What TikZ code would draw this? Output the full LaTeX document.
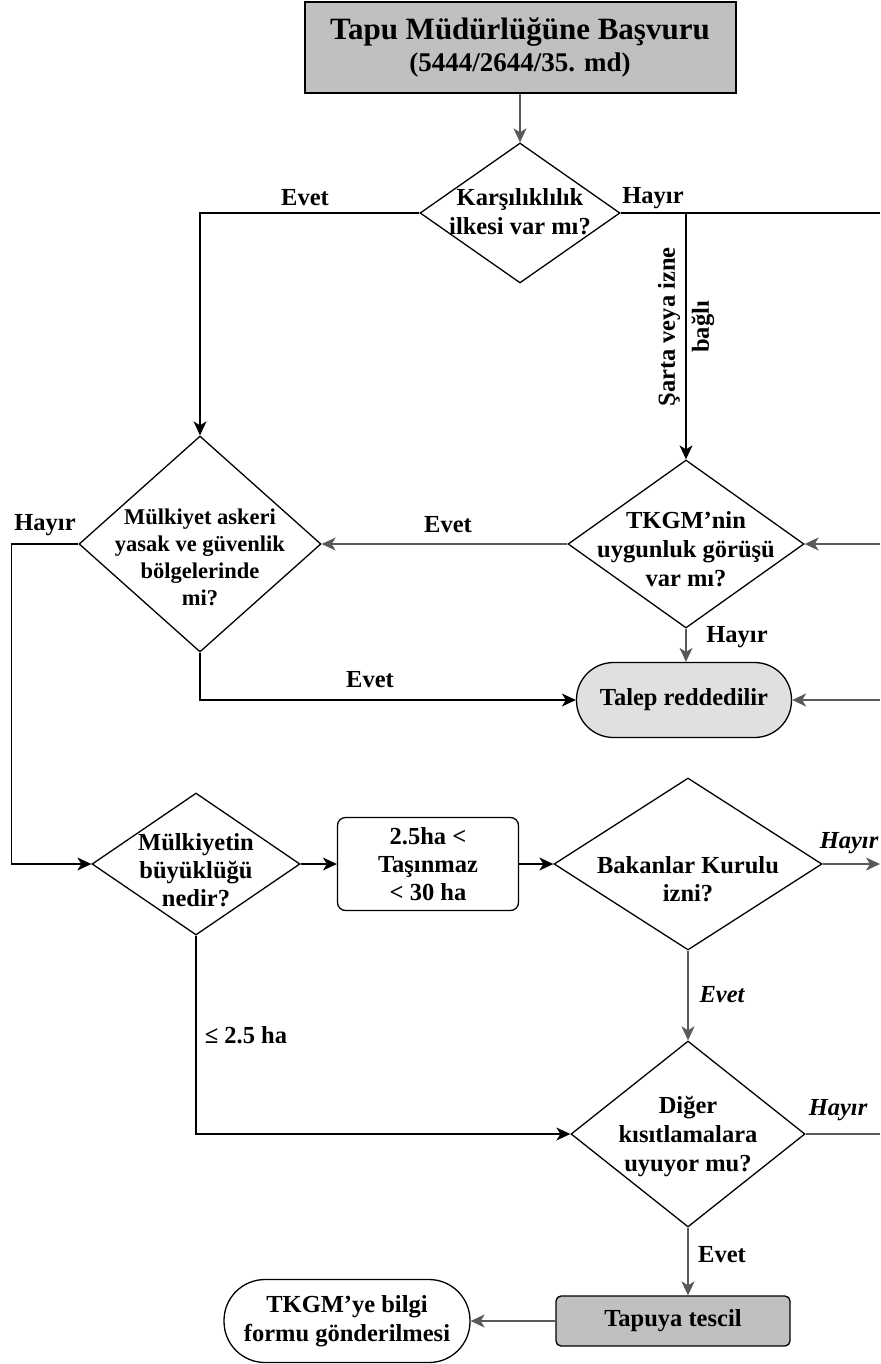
\documentclass[tikz,border=0pt]{standalone}
\usepackage{fontspec}
\setmainfont{Liberation Serif}
\usetikzlibrary{shapes.geometric,arrows.meta}
\definecolor{lg}{HTML}{595959}
\definecolor{boxgray}{HTML}{C0C0C0}
\definecolor{pale}{HTML}{E0E0E0}
\tikzset{
  dia/.style={draw=black, line width=1.3pt, shape=diamond, inner sep=0pt},
  lbl/.style={font=\bfseries\fontsize{24.5}{30}\selectfont, inner sep=0pt},
  ilbl/.style={font=\bfseries\itshape\fontsize{24.5}{30}\selectfont, inner sep=0pt},
  txt/.style={font=\bfseries\fontsize{24.5}{29}\selectfont, align=center, inner sep=0pt},
  bl/.style={draw=black, line width=1.3pt},
  gl/.style={draw=lg, line width=1.6pt},
  bla/.style={bl, -{Stealth[length=14pt,width=13pt,inset=4pt]}},
  gla/.style={gl, -{Stealth[length=14pt,width=13pt,inset=4pt]}},
}
\begin{document}
\begin{tikzpicture}[x=1pt,y=-1pt]
\clip (0,0) rectangle (880,1364);
\fill[white] (0,0) rectangle (880,1364);
% start box
\node[draw=black, line width=2pt, fill=boxgray, minimum width=431pt, minimum height=91pt, inner sep=0pt, align=center, font=\bfseries] (start) at (520,47.5)
  {\fontsize{31}{36}\selectfont Tapu Müdürlüğüne Başvuru\\[6pt]\fontsize{27}{32}\selectfont (5444/2644/35. md)};
% diamond 1
\node[dia, minimum width=200pt, minimum height=140pt] (d1) at (520,213) {};
\node[txt] (d1t) at (520,212) {Karşılıklılık\\ilkesi var mı?};
\draw[gla] (start.south) -- (d1.north);
% diamond 2
\node[dia, minimum width=242pt, minimum height=216pt] (d2) at (200,544) {};
\node[txt, font=\bfseries\fontsize{22.5}{27}\selectfont] (d2t) at (200,557) {Mülkiyet askeri\\yasak ve güvenlik\\bölgelerinde\\mi?};
% diamond 3 TKGM
\node[dia, minimum width=236pt, minimum height=168pt] (d3) at (686,544) {};
\node[txt] (d3t) at (686,549) {TKGM’nin\\uygunluk görüşü\\var mı?};
% talep
\node[draw=black, line width=1.3pt, fill=pale, rounded corners=37pt, minimum width=215pt, minimum height=75pt, inner sep=0pt, font=\bfseries\fontsize{24.5}{30}\selectfont] (talep) at (684,700) {Talep reddedilir};
% diamond 4
\node[dia, minimum width=208pt, minimum height=142pt] (d4) at (196,864) {};
\node[txt, font=\bfseries\fontsize{24.5}{28}\selectfont] (d4t) at (196,870) {Mülkiyetin\\büyüklüğü\\nedir?};
% range box
\node[draw=black, line width=1.3pt, rounded corners=8pt, minimum width=181pt, minimum height=93pt, inner sep=0pt, align=center, font=\bfseries\fontsize{24.5}{28}\selectfont] (range) at (428,864) {2.5ha <\\Taşınmaz\\< 30 ha};
% diamond 5 Bakanlar
\node[dia, minimum width=268pt, minimum height=172pt] (d5) at (688,864) {};
\node[txt, font=\bfseries\fontsize{24.5}{28}\selectfont] (d5t) at (688,879) {Bakanlar Kurulu\\izni?};
% diamond 6 Diger
\node[dia, minimum width=234pt, minimum height=186pt] (d6) at (688,1134) {};
\node[txt] (d6t) at (688,1136) {Diğer\\kısıtlamalara\\uyuyor mu?};
% tescil
\node[draw=black, line width=1.3pt, fill=boxgray, rounded corners=5pt, minimum width=234pt, minimum height=50pt, inner sep=0pt, font=\bfseries\fontsize{24.5}{30}\selectfont] (tescil) at (673,1321) {Tapuya tescil};
% bilgi
\node[draw=black, line width=1.3pt, fill=white, rounded corners=41pt, minimum width=246pt, minimum height=83pt, inner sep=0pt, align=center, font=\bfseries\fontsize{24.5}{29}\selectfont] (bilgi) at (347,1321) {TKGM’ye bilgi\\formu gönderilmesi};
% coordinates at right edge
\coordinate (r1) at (880,213);
\coordinate (br) at (686,213);
\coordinate (r2) at (880,544);
\coordinate (r3) at (880,700);
\coordinate (r4) at (880,864);
\coordinate (r5) at (880,1134);
% connectors
\draw[bla] (d1.west) -| (d2.north);
\node[lbl] (l1) at (305,198) {Evet};
\draw[bl] (d1.east) -- (r1);
\node[lbl] (l2) at (653,198) {Hayır};
\draw[bla] (br) -- (d3.north);
\node[txt, rotate=90, font=\bfseries\fontsize{24.5}{34}\selectfont] (l3) at (686,327) {Şarta veya izne\\bağlı};
\draw[bla] (d2.west) -- ++(-67,0) |- (d4.west);
\node[lbl] (l4) at (45,525) {Hayır};
\draw[bla] (d2.south) |- (talep.west);
\node[lbl] (l5) at (370,680) {Evet};
\draw[gla] (d3.west) -- (d2.east);
\node[lbl] (l6) at (448,525) {Evet};
\draw[gla] (r2) -- (d3.east);
\draw[gla] (d3.south) -- (d3.south |- talep.north);
\node[lbl] (l7) at (737,637) {Hayır};
\draw[gla] (r3) -- (talep.east);
\draw[bla] (d4.east) -- (range.west);
\draw[bla] (range.east) -- (d5.west);
\draw[gla] (d5.east) -- (r4);
\node[ilbl] (l8) at (849,843) {Hayır};
\draw[gla] (d5.south) -- (d6.north);
\node[ilbl] (l9) at (722,995) {Evet};
\draw[gl] (d6.east) -- (r5);
\node[ilbl] (l10) at (838,1110) {Hayır};
\draw[bla] (d4.south) |- (d6.west);
\node[lbl] (l11) at (246,1035) {≤ 2.5 ha};
\draw[gla] (d6.south) -- (d6.south |- tescil.north);
\node[lbl] (l12) at (722,1255) {Evet};
\draw[gla] (tescil.west) -- (bilgi.east);
\end{tikzpicture}
\end{document}
